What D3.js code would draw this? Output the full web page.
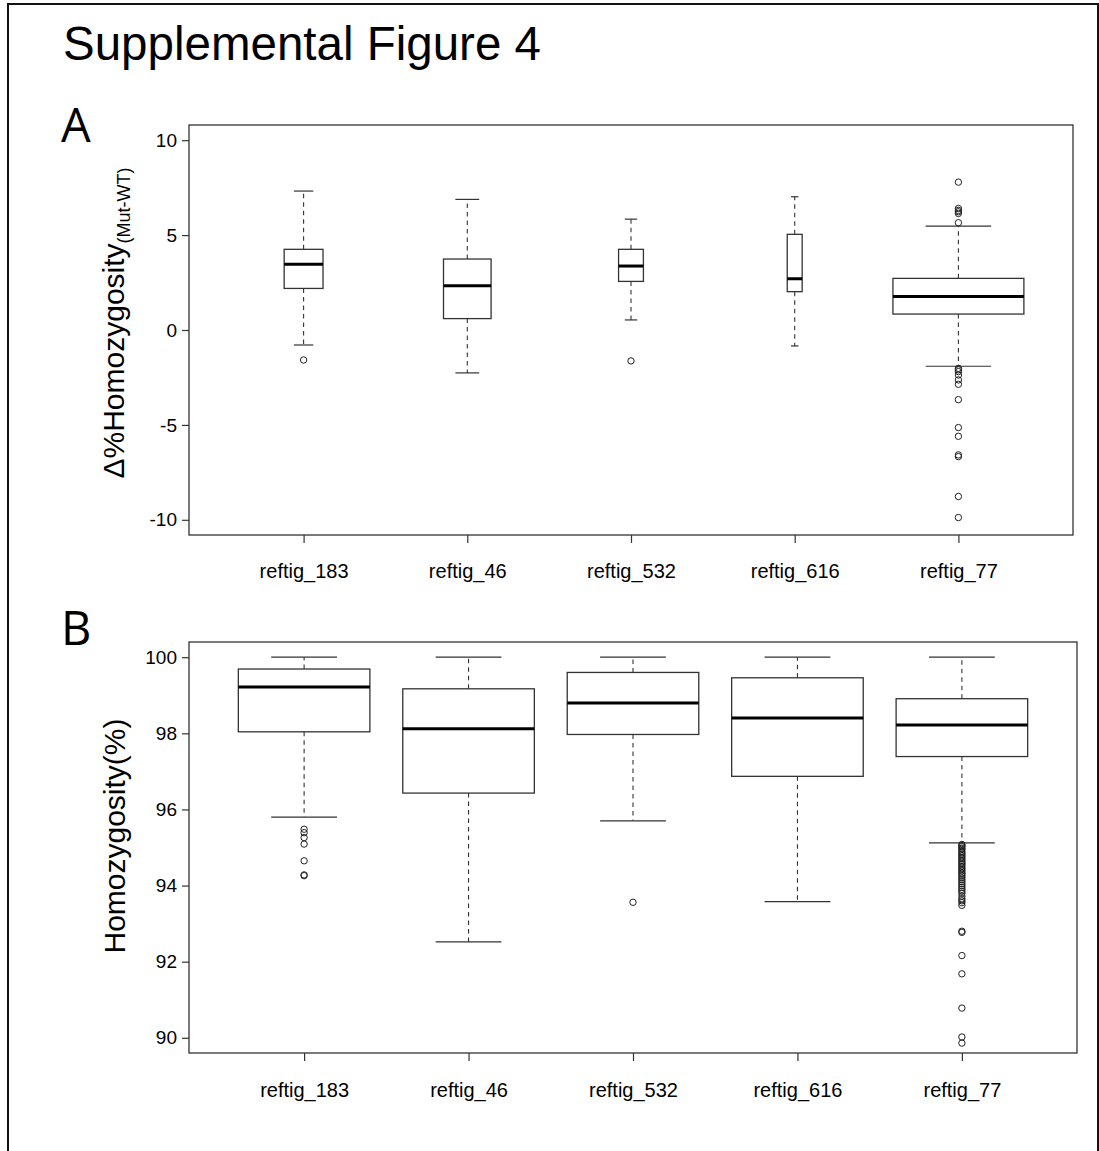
<!DOCTYPE html>
<html>
<head>
<meta charset="utf-8">
<script src="https://cdn.jsdelivr.net/npm/d3@7"></script>
<style>
  body { margin: 0; background: #fff; }
  svg { display: block; }
  text { font-family: "Liberation Sans", Arial, sans-serif; fill: #000; }
  .axis path { display: none; }
  .axis line { stroke: #333; stroke-width: 1.2; }
  .axis text { font-family: "Liberation Sans", Arial, sans-serif; fill: #000; }
</style>
</head>
<body>
<div id="chart"></div>
<script>
// categories shared by both panels
var categories = ["reftig_183", "reftig_46", "reftig_532", "reftig_616", "reftig_77"];

// Panel A: delta % homozygosity (Mut-WT), box widths follow sqrt(n)
var deltaN = [88, 132, 36, 13, 1000];
var deltaLowWhisker = [-0.79, -2.26, 0.53, -0.84, -1.91];
var deltaQ1 = [2.19, 0.60, 2.56, 2.02, 0.84];
var deltaMedian = [3.46, 2.33, 3.37, 2.70, 1.77];
var deltaQ3 = [4.25, 3.74, 4.25, 5.04, 2.72];
var deltaHighWhisker = [7.32, 6.88, 5.84, 7.02, 5.47];
var deltaOutliers = [
  [-1.58],
  [],
  [-1.63],
  [],
  [7.79, 6.40, 6.30, 6.23, 6.14, 5.65, -2.02, -2.10, -2.19, -2.37, -2.63, -2.86, -3.67, -5.14, -5.60, -6.58, -6.67, -8.77, -9.88]
];
var deltaTicks = [-10, -5, 0, 5, 10];

// Panel B: homozygosity (%)
var homoLowWhisker = [95.80, 92.52, 95.70, 93.58, 95.12];
var homoQ1 = [98.04, 96.43, 97.97, 96.87, 97.39];
var homoMedian = [99.22, 98.12, 98.80, 98.40, 98.22];
var homoQ3 = [99.69, 99.17, 99.60, 99.46, 98.91];
var homoHighWhisker = [100, 100, 100, 100, 100];
var homoOutliers = [
  [95.48, 95.39, 95.26, 95.09, 94.65, 94.28, 94.26],
  [],
  [93.56],
  [],
  [95.08, 95.05, 95.02, 94.98, 94.95, 94.90, 94.86, 94.82, 94.78, 94.74, 94.70, 94.66,
   94.62, 94.58, 94.55, 94.50, 94.46, 94.42, 94.38, 94.33, 94.30, 94.25, 94.20, 94.15,
   94.10, 94.05, 94.00, 93.95, 93.90, 93.85, 93.80, 93.72, 93.65, 93.60, 93.55, 93.48,
   92.80, 92.77, 92.16, 91.68, 90.78, 90.02, 89.86]
];
var homoTicks = [90, 92, 94, 96, 98, 100];

var svg = d3.select("#chart").append("svg")
  .attr("width", 1099)
  .attr("height", 1151);

// outer frame
svg.append("path")
  .attr("d", "M8,1151 V4 H1098 V1151")
  .attr("fill", "none")
  .attr("stroke", "#111")
  .attr("stroke-width", 2);

svg.append("text")
  .attr("x", 63)
  .attr("y", 60)
  .style("font-size", "47.5px")
  .text("Supplemental Figure 4");

function boxPanel(opts) {
  var x = d3.scaleLinear().domain([0.3, categories.length + 0.7]).range([opts.left, opts.right]);
  var y = d3.scaleLinear().domain(opts.domain).range([opts.bottom, opts.top]);
  var unit = x(2) - x(1);
  var maxN = opts.n ? d3.max(opts.n) : 1;

  var g = svg.append("g");

  g.append("text")
    .attr("x", 61)
    .attr("y", opts.letterY)
    .style("font-family", "'Open Sans', sans-serif")
    .style("font-size", "47px")
    .text(opts.letter);

  // plain hyphen for negatives, like R
  var yAxis = d3.axisLeft(y)
    .tickValues(opts.ticks)
    .tickFormat(function(d) { return String(d); })
    .tickSize(7)
    .tickPadding(5);
  g.append("g")
    .attr("class", "axis")
    .attr("transform", "translate(" + opts.left + ",0)")
    .call(yAxis)
    .selectAll("text")
    .style("font-size", "19px");

  var xAxis = d3.axisBottom(x)
    .tickValues(d3.range(1, categories.length + 1))
    .tickFormat(function(d) { return categories[d - 1]; })
    .tickSize(8)
    .tickPadding(0);
  var xg = g.append("g")
    .attr("class", "axis")
    .attr("transform", "translate(0," + opts.bottom + ")")
    .call(xAxis);
  xg.selectAll("text")
    .attr("dy", null)
    .attr("y", opts.labelBaseline - opts.bottom)
    .style("font-size", "20px");

  g.append("rect")
    .attr("x", opts.left)
    .attr("y", opts.top)
    .attr("width", opts.right - opts.left)
    .attr("height", opts.bottom - opts.top)
    .attr("fill", "none")
    .attr("stroke", "#333")
    .attr("stroke-width", 1.3);

  categories.forEach(function(c, i) {
    var cx = x(i + 1);
    var w = 0.8 * unit * (opts.n ? Math.sqrt(opts.n[i] / maxN) : 1);
    var b = g.append("g");

    // whiskers
    [[opts.q1[i], opts.lo[i]], [opts.q3[i], opts.hi[i]]].forEach(function(p) {
      b.append("line")
        .attr("x1", cx).attr("x2", cx)
        .attr("y1", y(p[0])).attr("y2", y(p[1]))
        .attr("stroke", "#333")
        .attr("stroke-width", 1.1)
        .attr("stroke-dasharray", "4.5,4");
      b.append("line")
        .attr("x1", cx - w / 4).attr("x2", cx + w / 4)
        .attr("y1", y(p[1])).attr("y2", y(p[1]))
        .attr("stroke", "#333")
        .attr("stroke-width", 1.2);
    });

    b.append("rect")
      .attr("x", cx - w / 2)
      .attr("y", y(opts.q3[i]))
      .attr("width", w)
      .attr("height", y(opts.q1[i]) - y(opts.q3[i]))
      .attr("fill", "#fff")
      .attr("stroke", "#333")
      .attr("stroke-width", 1.3);

    b.append("line")
      .attr("x1", cx - w / 2).attr("x2", cx + w / 2)
      .attr("y1", y(opts.med[i])).attr("y2", y(opts.med[i]))
      .attr("stroke", "#000")
      .attr("stroke-width", 3);

    b.selectAll("circle")
      .data(opts.out[i])
      .enter().append("circle")
      .attr("cx", cx)
      .attr("cy", function(d) { return y(d); })
      .attr("r", 3.2)
      .attr("fill", "none")
      .attr("stroke", "#222")
      .attr("stroke-width", 1);
  });

  // y axis title
  var t = g.append("text")
    .attr("transform", "translate(" + opts.titleX + "," + opts.titleY + ") rotate(-90)")
    .attr("text-anchor", "middle")
    .style("font-size", "30px");
  t.append("tspan").text(opts.title);
  if (opts.sub) {
    t.append("tspan")
      .attr("dy", 6)
      .style("font-size", "18px")
      .text(opts.sub);
  }
}

boxPanel({
  letter: "A", letterY: 142,
  left: 189, right: 1073, top: 125, bottom: 535,
  domain: [-10.8, 10.8], ticks: deltaTicks,
  n: deltaN,
  lo: deltaLowWhisker, q1: deltaQ1, med: deltaMedian, q3: deltaQ3, hi: deltaHighWhisker,
  out: deltaOutliers,
  labelBaseline: 578,
  title: "\u0394%Homozygosity", sub: "(Mut-WT)",
  titleX: 124, titleY: 323
});

boxPanel({
  letter: "B", letterY: 645,
  left: 189, right: 1077, top: 642, bottom: 1053,
  domain: [89.6, 100.4], ticks: homoTicks,
  lo: homoLowWhisker, q1: homoQ1, med: homoMedian, q3: homoQ3, hi: homoHighWhisker,
  out: homoOutliers,
  labelBaseline: 1097,
  title: "Homozygosity(%)",
  titleX: 125, titleY: 836
});
</script>
</body>
</html>
